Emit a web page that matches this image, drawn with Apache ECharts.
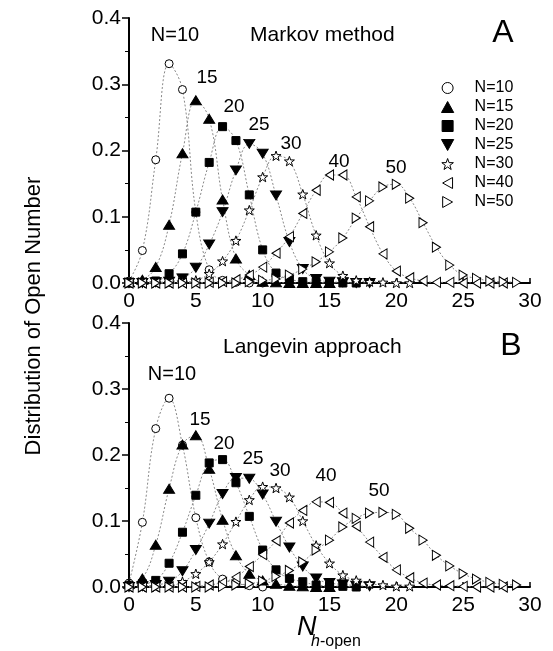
<!DOCTYPE html>
<html>
<head>
    <meta charset="utf-8">
    <script src="https://cdn.jsdelivr.net/npm/echarts@6/dist/echarts.min.js"></script>
    <style type="text/css">
        body { margin: 0; background: #fff; }
    </style>
</head>
<body>
    <div id="main" style="width: 553px;height:651px;"></div>
    <script type="text/javascript">
        // series names, one per channel number N
        var names = ['N=10', 'N=15', 'N=20', 'N=25', 'N=30', 'N=40', 'N=50'];

        // panel A: Markov method, value at open number k = 0,1,2,...
        var markovN10 = [0.003, 0.049, 0.186, 0.331, 0.292, 0.107, 0.020, 0.004, 0.001, 0, 0];
        var markovN15 = [0.001, 0.005, 0.024, 0.088, 0.196, 0.276, 0.248, 0.126, 0.037, 0.012, 0.002, 0.001, 0, 0, 0, 0];
        var markovN20 = [0, 0.001, 0.003, 0.014, 0.044, 0.107, 0.182, 0.236, 0.215, 0.133, 0.050, 0.015, 0.006, 0.002, 0.001, 0, 0, 0];
        var markovN25 = [0, 0, 0.001, 0.002, 0.007, 0.023, 0.058, 0.107, 0.170, 0.210, 0.195, 0.132, 0.062, 0.021, 0.006, 0.002, 0.001, 0, 0];
        var markovN30 = [0, 0, 0, 0, 0.001, 0.004, 0.014, 0.033, 0.064, 0.110, 0.160, 0.192, 0.184, 0.134, 0.072, 0.030, 0.011, 0.004, 0.002, 0.001, 0, 0];
        var markovN40 = [0, 0, 0, 0, 0, 0, 0.001, 0.002, 0.005, 0.012, 0.024, 0.045, 0.070, 0.105, 0.140, 0.163, 0.163, 0.130, 0.085, 0.044, 0.018, 0.008, 0.003, 0.001, 0.001, 0, 0, 0, 0];
        var markovN50 = [0, 0, 0, 0, 0, 0, 0, 0, 0, 0.002, 0.004, 0.006, 0.012, 0.021, 0.032, 0.047, 0.068, 0.098, 0.124, 0.145, 0.149, 0.128, 0.091, 0.054, 0.027, 0.012, 0.007, 0.003, 0.002, 0.001];

        // panel B: Langevin approach
        var langN10 = [0.006, 0.098, 0.240, 0.286, 0.215, 0.105, 0.038, 0.012, 0.007, 0.002, 0];
        var langN15 = [0.005, 0.013, 0.064, 0.149, 0.216, 0.230, 0.179, 0.102, 0.048, 0.020, 0.010, 0.005, 0.002, 0.001, 0, 0];
        var langN20 = [0.002, 0.005, 0.010, 0.036, 0.083, 0.139, 0.188, 0.193, 0.158, 0.107, 0.056, 0.026, 0.013, 0.008, 0.003, 0.002, 0.001, 0];
        var langN25 = [0, 0.001, 0.003, 0.008, 0.024, 0.056, 0.096, 0.141, 0.165, 0.164, 0.140, 0.099, 0.060, 0.031, 0.013, 0.006, 0.004, 0.002, 0.001];
        var langN30 = [0, 0, 0, 0.001, 0.008, 0.020, 0.038, 0.065, 0.099, 0.132, 0.152, 0.150, 0.136, 0.100, 0.063, 0.036, 0.018, 0.010, 0.005, 0.003, 0.001, 0.001];
        var langN40 = [0, 0, 0, 0, 0, 0.001, 0.003, 0.007, 0.015, 0.031, 0.049, 0.070, 0.097, 0.116, 0.129, 0.128, 0.112, 0.092, 0.068, 0.045, 0.026, 0.014, 0.006, 0.003, 0.002, 0.001, 0, 0, 0];
        var langN50 = [0, 0, 0, 0, 0, 0, 0, 0.001, 0.003, 0.005, 0.009, 0.016, 0.025, 0.038, 0.056, 0.071, 0.091, 0.104, 0.112, 0.113, 0.110, 0.089, 0.071, 0.048, 0.032, 0.020, 0.012, 0.007, 0.004, 0.003];

        var markovData = [markovN10, markovN15, markovN20, markovN25, markovN30, markovN40, markovN50];
        var langData = [langN10, langN15, langN20, langN25, langN30, langN40, langN50];

        var FONT = '"Liberation Sans", Arial, sans-serif';

        // marker look per N
        var STAR = 'path://M0,-10L2.35,-3.24L9.51,-3.09L3.8,1.24L5.88,8.09L0,4L-5.88,8.09L-3.8,1.24L-9.51,-3.09L-2.35,-3.24Z';
        var marks = [
            { symbol: 'path://M0,-1A1,1,0,1,1,0,1A1,1,0,1,1,0,-1Z', size: 8, fill: '#fff' },
            { symbol: 'path://M0,0L1,1.8L-1,1.8Z', size: [11, 10], fill: '#000' },
            { symbol: 'path://M0,0H1V1H0Z', size: 8, fill: '#000' },
            { symbol: 'path://M-1,0L1,0L0,1.8Z', size: [11, 10], fill: '#000' },
            { symbol: STAR, size: 10, fill: '#fff' },
            { symbol: 'path://M0,0L1.8,-1L1.8,1Z', size: [9, 10], fill: '#fff' },
            { symbol: 'path://M0,0L-1.8,-1L-1.8,1Z', size: [9, 10], fill: '#fff' }
        ];

        function toPoints(arr) {
            return arr.map(function (v, k) { return [k, v]; });
        }

        function makeSeries(dataList, axisIndex) {
            return dataList.map(function (arr, i) {
                return {
                    name: names[i],
                    type: 'line',
                    xAxisIndex: axisIndex,
                    yAxisIndex: axisIndex,
                    smooth: 0.4,
                    symbol: marks[i].symbol,
                    symbolSize: marks[i].size,
                    symbolKeepAspect: true,
                    showAllSymbol: true,
                    itemStyle: { color: marks[i].fill, borderColor: '#000', borderWidth: 1 },
                    lineStyle: { color: '#888', width: 1, type: [2, 2] },
                    emphasis: { disabled: true },
                    data: toPoints(arr)
                };
            });
        }

        function xAxisOf(idx) {
            return {
                gridIndex: idx, type: 'value', min: 0, max: 30, interval: 5,
                axisLine: { onZero: false, lineStyle: { color: '#000', width: 2 } },
                axisTick: { inside: true, length: 5, lineStyle: { color: '#000', width: 1.5 } },
                minorTick: { show: true, splitNumber: 5, length: 3, lineStyle: { color: '#000' } },
                axisLabel: { fontSize: 21, color: '#000', margin: 8, fontFamily: FONT },
                splitLine: { show: false }
            };
        }

        function yAxisOf(idx) {
            return {
                gridIndex: idx, type: 'value', min: 0, max: 0.4, interval: 0.1,
                axisLine: { show: true, onZero: false, lineStyle: { color: '#000', width: 2 } },
                axisTick: { show: true, length: 7, lineStyle: { color: '#000', width: 1.5 } },
                minorTick: { show: true, splitNumber: 2, length: 4, lineStyle: { color: '#000' } },
                axisLabel: { fontSize: 21, color: '#000', margin: 8, fontFamily: FONT,
                    formatter: function (v) { return v.toFixed(1); } },
                splitLine: { show: false }
            };
        }

        function txt(x, y, s, size, align, extra) {
            var st = { text: s, fontSize: size, fontFamily: FONT, fill: '#000',
                align: align || 'center', verticalAlign: 'middle' };
            if (extra) { for (var key in extra) st[key] = extra[key]; }
            return { type: 'text', x: x, y: y, style: st, z: 100 };
        }

        var myChart = echarts.init(document.getElementById('main'));
        var option = {
            backgroundColor: '#fff',
            animation: false,
            grid: [
                { left: 129, top: 18, width: 401, height: 265 },
                { left: 129, top: 323, width: 401, height: 264 }
            ],
            xAxis: [xAxisOf(0), xAxisOf(1)],
            yAxis: [yAxisOf(0), yAxisOf(1)],
            legend: {
                orient: 'vertical',
                left: 436, top: 75,
                itemWidth: 44, itemHeight: 11, itemGap: 3,
                symbolKeepAspect: true,
                itemStyle: { borderWidth: 1, borderColor: '#000' },
                textStyle: { fontSize: 16, color: '#000', fontFamily: FONT },
                data: names.map(function (n, i) { return { name: n, icon: marks[i].symbol }; })
            },
            graphic: [
                // panel A texts
                txt(175, 35, 'N=10', 20),
                txt(250, 35, 'Markov method', 21, 'left'),
                txt(503, 33, 'A', 32),
                txt(207, 78, '15', 19),
                txt(234, 107, '20', 19),
                txt(259, 125, '25', 19),
                txt(291, 144, '30', 19),
                txt(339, 162, '40', 19),
                txt(396, 168, '50', 19),
                // panel B texts
                txt(223, 347, 'Langevin approach', 21, 'left'),
                txt(511, 346, 'B', 32),
                txt(172, 374, 'N=10', 20),
                txt(200, 420, '15', 19),
                txt(224, 444, '20', 19),
                txt(253, 459, '25', 19),
                txt(280, 471, '30', 19),
                txt(326, 476, '40', 19),
                txt(379, 491, '50', 19),
                // axis titles
                {
                    type: 'text', x: 34, y: 316, rotation: Math.PI / 2, z: 100,
                    style: { text: 'Distribution of Open Number', fontSize: 22, fontFamily: FONT,
                        fill: '#000', align: 'center', verticalAlign: 'middle' }
                },
                txt(297, 627, 'N', 27, 'left', { fontStyle: 'italic' }),
                {
                    type: 'text', x: 311, y: 642, z: 100,
                    style: {
                        text: '{i|h}{r|-open}', align: 'left', verticalAlign: 'middle',
                        rich: {
                            i: { fontSize: 16, fontStyle: 'italic', fontFamily: FONT, fill: '#000' },
                            r: { fontSize: 16, fontFamily: FONT, fill: '#000' }
                        }
                    }
                }
            ],
            series: makeSeries(markovData, 0).concat(makeSeries(langData, 1))
        };
        myChart.setOption(option);
    </script>
</body>
</html>
